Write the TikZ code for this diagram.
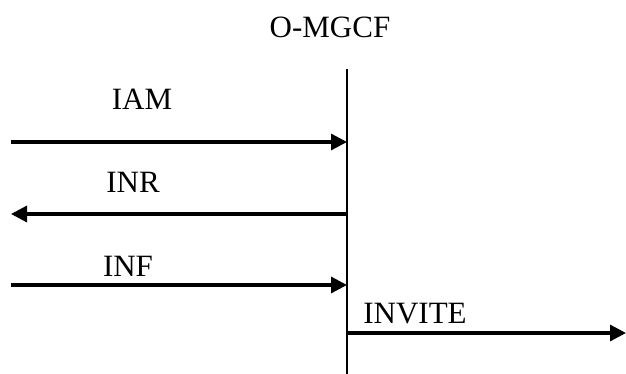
\documentclass[tikz,border=0pt]{standalone}
\usepackage{fontspec}
\setmainfont{Liberation Serif}
\usetikzlibrary{arrows.meta,positioning}
\begin{document}
\begin{tikzpicture}[x=1pt,y=-1pt,
    msg/.style={line width=3.2pt,-{Triangle[length=16pt,width=16pt]}},
    lbl/.style={font=\fontsize{31}{36}\selectfont,inner sep=0pt}]
        \useasboundingbox (0,0) rectangle (626,374);

        % Lifeline of O-MGCF
        \node[lbl] (mgcf) at (330,27) {O-MGCF};
        \coordinate (top) at (347,69);
        \coordinate (bot) at (347,374);
        \draw[line width=2pt] (top) -- (bot);

        % Incoming messages
        \foreach \name/\y in {iam/142, inf/285} {
          \coordinate (\name-l) at (11,\y);
          \coordinate (\name-r) at (347,\y);
          \draw[msg] (\name-l) -- (\name-r);
        }

        % Outgoing messages
        \coordinate (inr-r) at (347,214);
        \coordinate (inr-l) at (11,214);
        \draw[msg] (inr-r) -- (inr-l);
        \coordinate (invite-l) at (347,333);
        \coordinate (invite-r) at (626,333);
        \draw[msg] (invite-l) -- (invite-r);

        % Message labels
        \node[lbl] (iam) at (142,99) {IAM};
        \node[lbl] (inr) at (133,182) {INR};
        \node[lbl] (inf) at (128,266) {INF};
        \node[lbl] (invite) at (415,314) {INVITE};
\end{tikzpicture}
\end{document}
